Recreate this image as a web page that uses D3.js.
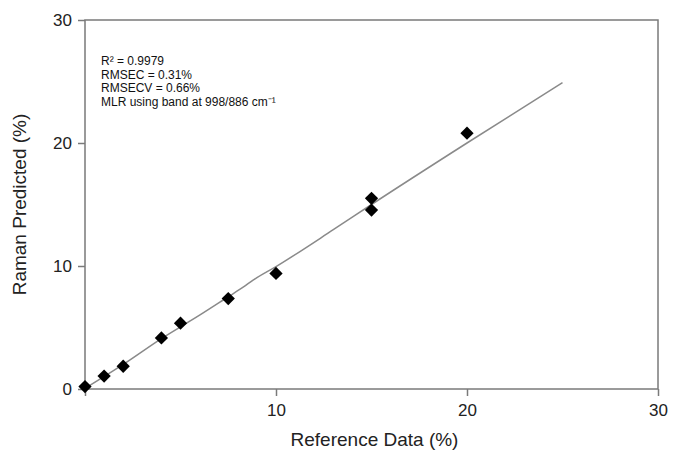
<!DOCTYPE html>
<html><head><meta charset="utf-8">
<script src="https://cdn.jsdelivr.net/npm/d3@7/dist/d3.min.js"></script>
<style>body{margin:0;background:#fff}svg{display:block}text{font-family:"Liberation Sans",Arial,sans-serif}</style>
</head><body>
<svg id="c" width="673" height="457"></svg>
<script>
const refX = [0, 1, 2, 4, 5, 7.5, 10, 15, 15, 20];
const predY = [0.2, 1.05, 1.85, 4.15, 5.35, 7.35, 9.4, 14.55, 15.5, 20.8];
const fitX = [0, 2, 4, 6, 7.5, 8.3, 8.8, 10, 13, 15, 20, 25];
const fitY = [0.05, 2.0, 4.1, 6.0, 7.5, 8.3, 8.85, 9.95, 12.95, 15.0, 20.0, 24.9];
const xTicks = [0, 10, 20, 30];
const yTicks = [0, 10, 20, 30];
const notes = ["R² = 0.9979", "RMSEC = 0.31%", "RMSECV = 0.66%", "MLR using band at 998/886 cm⁻¹"];

const svg = d3.select("#c");
const L = 85, R = 658, T = 20, B = 389;
const x = d3.scaleLinear().domain([0, 30]).range([L, R]);
const y = d3.scaleLinear().domain([0, 30]).range([B, T]);
const axisColor = "#7a7a7a";

svg.append("rect").attr("x", L).attr("y", T).attr("width", R - L).attr("height", B - T)
  .attr("fill", "none").attr("stroke", axisColor).attr("stroke-width", 1.5);

const xa = svg.append("g").attr("transform", `translate(0,${B})`)
  .call(d3.axisBottom(x).tickValues(xTicks).tickSize(7).tickPadding(8).tickFormat(d => d === 0 ? "" : d));
const ya = svg.append("g").attr("transform", `translate(${L},0)`)
  .call(d3.axisLeft(y).tickValues(yTicks).tickSize(7).tickPadding(6).tickFormat(d => d));
[xa, ya].forEach(a => {
  a.select(".domain").remove();
  a.selectAll("line").attr("stroke", axisColor).attr("stroke-width", 1.5);
  a.selectAll("text").attr("fill", "#222").style("font-size", "17px").style("font-family", '"Liberation Sans",Arial,sans-serif');
});

svg.append("path").datum(fitX.map((v, i) => [v, fitY[i]]))
  .attr("fill", "none").attr("stroke", "#8a8a8a").attr("stroke-width", 1.5)
  .attr("d", d3.line().x(d => x(d[0])).y(d => y(d[1])).curve(d3.curveMonotoneX));

const sym = d3.symbol().type(d3.symbolSquare).size(88);
svg.append("g").selectAll("path").data(refX.map((v, i) => [v, predY[i]])).join("path")
  .attr("d", sym).attr("fill", "#000")
  .attr("transform", d => `translate(${x(d[0])},${y(d[1])}) rotate(45)`);

svg.append("g").selectAll("text").data(notes).join("text")
  .attr("x", 101).attr("y", (d, i) => 65 + i * 13.5)
  .attr("fill", "#111").style("font-size", "12px").text(d => d);

svg.append("text").attr("x", (L + R) / 2 + 3).attr("y", 446).attr("text-anchor", "middle")
  .attr("fill", "#222").style("font-size", "19px").text("Reference Data (%)");
svg.append("text").attr("transform", `translate(26,${(T + B) / 2}) rotate(-90)`).attr("text-anchor", "middle")
  .attr("fill", "#222").style("font-size", "19px").text("Raman Predicted (%)");
</script>
</body></html>
